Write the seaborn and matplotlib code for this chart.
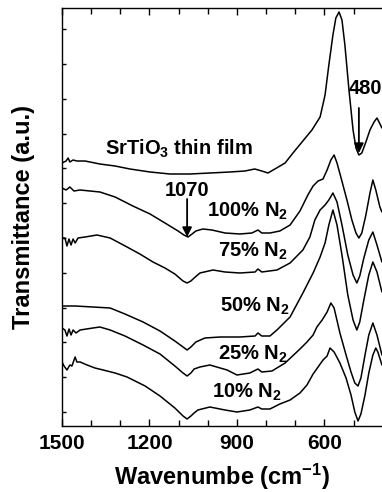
import numpy as np
import pandas as pd
import matplotlib
matplotlib.use('Agg')
import matplotlib.pyplot as plt
import seaborn as sns

# FTIR spectra, transmittance in arbitrary units (curves are offset)
wn_sto = [1500, 1486, 1479, 1473, 1462, 1449, 1421, 1370, 1318, 1267, 1198, 1130, 1061, 993, 924, 873,
          839, 815, 794, 770, 735, 708, 677, 643, 615, 598, 585, 571, 561, 550, 540, 530, 516, 502,
          492, 482, 472, 458, 444, 430, 420, 413, 403]
t_sto = [263, 265, 268, 264, 266, 265, 265, 262, 260, 257, 254, 252, 252, 253, 254, 255,
         257, 255, 253, 257, 263, 273, 284, 296, 309, 331, 361, 391, 408, 414, 406, 381, 336, 296,
         278, 271, 273, 284, 296, 304, 308, 304, 298]

wn_100 = [1500, 1486, 1473, 1459, 1438, 1404, 1370, 1318, 1257, 1198, 1147, 1102, 1082, 1068, 1054, 1041,
          1017, 986, 941, 890, 849, 828, 815, 787, 753, 718, 684, 657, 639, 622, 605, 591, 578, 567,
          557, 543, 523, 506, 492, 482, 472, 458, 444, 434, 424, 410, 403]
t_100 = [238, 236, 239, 235, 236, 235, 234, 229, 220, 212, 203, 195, 191, 189, 192, 195,
         197, 196, 193, 192, 193, 196, 193, 193, 195, 201, 215, 231, 240, 245, 247, 256, 266, 271,
         263, 248, 226, 206, 193, 188, 193, 211, 233, 246, 236, 219, 214]

wn_75 = [1500, 1490, 1483, 1476, 1469, 1462, 1455, 1445, 1421, 1380, 1335, 1277, 1233, 1188, 1147, 1113,
         1085, 1071, 1058, 1047, 1027, 982, 941, 890, 838, 828, 815, 763, 718, 674, 650, 633, 615,
         598, 585, 571, 557, 540, 520, 502, 489, 479, 465, 448, 434, 420, 403]
t_75 = [188, 188, 180, 187, 181, 187, 183, 188, 189, 191, 188, 179, 172, 164, 158, 152,
        145, 143, 145, 148, 153, 156, 154, 153, 154, 157, 154, 156, 163, 176, 189, 206, 216,
        221, 226, 233, 224, 201, 171, 151, 143, 150, 168, 186, 194, 181, 164]

wn_50 = [1500, 1455, 1394, 1335, 1284, 1222, 1164, 1113, 1085, 1071, 1058, 1041, 1010, 958, 890, 838,
         828, 815, 787, 763, 718, 674, 639, 615, 598, 585, 571, 557, 540, 520, 502, 489, 479, 465,
         448, 434, 420, 403]
t_50 = [120, 120, 119, 118, 112, 104, 95, 85, 79, 76, 79, 84, 88, 89, 89, 90,
        93, 90, 90, 96, 109, 133, 153, 169, 183, 201, 216, 201, 171, 131, 106, 96, 104, 126,
        151, 164, 154, 134]

wn_25 = [1500, 1490, 1483, 1476, 1469, 1462, 1452, 1438, 1394, 1370, 1335, 1284, 1222, 1164, 1113, 1085,
         1071, 1058, 1047, 1027, 993, 934, 900, 856, 828, 815, 780, 735, 684, 660, 639, 626, 608,
         591, 578, 567, 547, 526, 509, 496, 485, 475, 461, 448, 434, 420, 403]
t_25 = [98, 96, 90, 97, 91, 96, 93, 96, 98, 99, 96, 90, 81, 72, 60, 53,
        50, 53, 57, 59, 61, 56, 51, 53, 57, 54, 55, 63, 77, 84, 91, 99, 106,
        114, 123, 118, 93, 71, 54, 43, 40, 48, 71, 91, 103, 91, 71]

wn_10 = [1500, 1493, 1483, 1473, 1466, 1455, 1449, 1438, 1414, 1387, 1359, 1318, 1277, 1215, 1164, 1113,
         1085, 1071, 1058, 1047, 1034, 993, 941, 900, 856, 828, 815, 787, 753, 718, 684, 660, 639,
         622, 605, 591, 581, 567, 547, 526, 509, 496, 485, 475, 461, 448, 434, 424, 417, 403]
t_10 = [64, 60, 56, 61, 60, 69, 64, 64, 61, 58, 56, 53, 49, 40, 30, 18,
        10, 7, 10, 13, 16, 19, 16, 14, 16, 19, 17, 17, 22, 26, 33, 41, 52,
        59, 66, 70, 78, 74, 63, 48, 31, 14, 5, 12, 31, 53, 71, 78, 74, 61]

samples = ['SrTiO3', '100', '75', '50', '25', '10']
wn_all = [wn_sto, wn_100, wn_75, wn_50, wn_25, wn_10]
t_all = [t_sto, t_100, t_75, t_50, t_25, t_10]

df = pd.concat([pd.DataFrame({'wn': w, 'T': t, 'sample': s})
                for s, w, t in zip(samples, wn_all, t_all)], ignore_index=True)

sns.set_theme(style='ticks')
plt.rcParams.update({
    'font.family': ['Liberation Sans', 'DejaVu Sans'],
    'font.weight': 'bold',
    'mathtext.fontset': 'custom',
    'mathtext.rm': 'Liberation Sans:bold',
    'mathtext.it': 'Liberation Sans:bold',
    'mathtext.default': 'rm',
    'text.color': 'black',
    'axes.labelcolor': 'black',
    'axes.edgecolor': 'black',
    'xtick.color': 'black',
    'ytick.color': 'black',
    'axes.linewidth': 1.0,
    'xtick.direction': 'in',
    'ytick.direction': 'in',
})

fig = plt.figure(figsize=(3.82, 4.92), dpi=100)
ax = fig.add_axes([62 / 382, 66 / 492, 320.8 / 382, 418 / 492])

sns.lineplot(data=df, x='wn', y='T', units='sample', estimator=None, sort=False,
             color='black', linewidth=1.1, ax=ax, legend=False)

ax.set_xlim(1500, 400)
ax.set_ylim(0, 418)
ax.set_xticks([1500, 1200, 900, 600])
ax.set_xticks(np.arange(1500, 399, -100), minor=True)
ax.set_yticks(np.arange(14, 418, 34.8))
ax.set_yticklabels([])
ax.tick_params(axis='x', which='major', length=5, width=1.0, top=True, labelsize=15, pad=6)
ax.tick_params(axis='x', which='minor', length=4, width=1.0, top=True)
ax.tick_params(axis='y', which='major', length=3, width=1.0, left=True, right=False)
for lab in ax.get_xticklabels():
    lab.set_fontweight('bold')

ax.set_xlabel('Wavenumbe (cm$^{-1}$)', fontsize=17, fontweight='bold')
ax.set_ylabel('Transmittance (a.u.)', fontsize=17, fontweight='bold')
ax.xaxis.set_label_coords(0.5, -0.085)
ax.yaxis.set_label_coords(-0.085, 0.5)

fs = 14.5
ax.text(1353, 271, 'SrTiO$_3$ thin film', fontsize=fs, fontweight='bold', va='baseline')
ax.text(1071, 235, '1070', fontsize=fs, fontweight='bold', ha='center', va='center')
ax.text(516, 337, '480', fontsize=fs, fontweight='bold', ha='left', va='center')
ax.text(1003, 209, '100% N$_2$', fontsize=fs, fontweight='bold', va='baseline')
ax.text(965, 169, '75% N$_2$', fontsize=fs, fontweight='bold', va='baseline')
ax.text(958, 114, '50% N$_2$', fontsize=fs, fontweight='bold', va='baseline')
ax.text(965, 66, '25% N$_2$', fontsize=fs, fontweight='bold', va='baseline')
ax.text(986, 28, '10% N$_2$', fontsize=fs, fontweight='bold', va='baseline')

arrow = dict(arrowstyle='-|>', color='black', lw=1.3, mutation_scale=14, shrinkA=0, shrinkB=0)
ax.annotate('', xy=(1071, 189), xytext=(1071, 227), arrowprops=arrow)
ax.annotate('', xy=(482, 273), xytext=(482, 318), arrowprops=arrow)

fig.savefig('out.png', dpi=100)
